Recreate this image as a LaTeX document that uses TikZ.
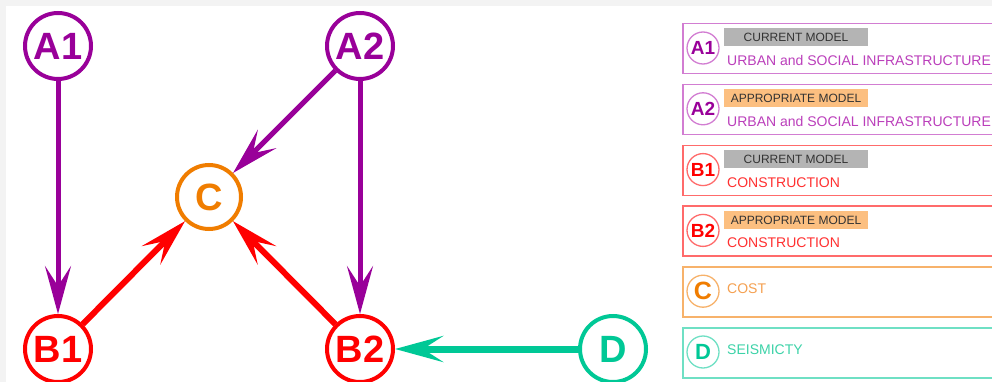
\documentclass[tikz,border=0pt]{standalone}
\usepackage{fontspec}
\setmainfont{Liberation Sans}
\usetikzlibrary{arrows.meta}
\definecolor{bggray}{HTML}{F3F3F3}
\definecolor{cpur}{HTML}{990099}
\definecolor{cred}{HTML}{FF0000}
\definecolor{corg}{HTML}{F07D00}
\definecolor{cteal}{HTML}{00C896}
\definecolor{bpur}{HTML}{D27DD2}
\definecolor{bred}{HTML}{FF6B6B}
\definecolor{borg}{HTML}{F7B26B}
\definecolor{bteal}{HTML}{6FE0C4}
\definecolor{tpur}{HTML}{BB3FBB}
\definecolor{tred}{HTML}{FF3030}
\definecolor{torg}{HTML}{F5A050}
\definecolor{tteal}{HTML}{3CD3A8}
\definecolor{taggray}{HTML}{B4B4B4}
\definecolor{tagorg}{HTML}{FCBF80}
\definecolor{tagtext}{HTML}{333333}
\begin{document}
\begin{tikzpicture}[x=1pt,y=-1pt,
  bignode/.style={circle, draw, line width=4pt, minimum size=66pt, inner sep=0pt,
    fill=white, font=\fontsize{38}{40}\selectfont\bfseries},
  arr/.style={-{Stealth[length=48pt,width=26pt,inset=20pt]}},
  legbox/.style={rectangle, draw, line width=1.5pt, minimum width=330pt,
    minimum height=50pt, inner sep=0pt, anchor=north west},
  lcirc/.style={circle, draw, line width=1.3pt, minimum size=32pt, inner sep=0pt,
    font=\fontsize{19}{20}\selectfont\bfseries},
  tagbox/.style={rectangle, minimum width=144pt, minimum height=18pt, inner sep=0pt,
    text=tagtext, font=\fontsize{12}{12}\selectfont},
  ltext/.style={anchor=base west, inner sep=0pt, font=\fontsize{14}{14}\selectfont}
]
\clip (0,0) rectangle (992,382);
\fill[bggray] (0,0) rectangle (992,382);
\fill[white] (6,6) rectangle (992,382);

% main graph nodes
\node[bignode, draw=cpur, text=cpur] (A1) at (58,46) {A1};
\node[bignode, draw=cpur, text=cpur] (A2) at (360,46) {A2};
\node[bignode, draw=corg, text=corg, minimum size=64pt] (C) at (209,197) {C};
\node[bignode, draw=cred, text=cred] (B1) at (58,349) {B1};
\node[bignode, draw=cred, text=cred] (B2) at (360,349) {B2};
\node[bignode, draw=cteal, text=cteal] (D) at (613,349) {D};

% connectors
\draw[arr, cpur, line width=5pt] (A1) -- (B1);
\draw[arr, cpur, line width=5pt] (A2) -- (C);
\draw[arr, cpur, line width=5pt] (A2) -- (B2);
\draw[arr, cred, line width=6pt] (B1) -- (C);
\draw[arr, cred, line width=6pt] (B2) -- (C);
\draw[arr, cteal, line width=7pt] (D) -- (B2);

% legend
\node[legbox, draw=bpur] (LB1) at (682,23) {};
\node[lcirc, draw=bpur, text=cpur] (LC1) at (703,48) {A1};
\node[tagbox, fill=taggray] (LT1) at (796,37.5) {CURRENT MODEL};
\node[ltext, text=tpur] (LS1) at (727,65.5) {URBAN and SOCIAL INFRASTRUCTURE};

\node[legbox, draw=bpur] (LB2) at (682,83.8) {};
\node[lcirc, draw=bpur, text=cpur] (LC2) at (703,108.8) {A2};
\node[tagbox, fill=tagorg] (LT2) at (796,98.3) {APPROPRIATE MODEL};
\node[ltext, text=tpur] (LS2) at (727,126.3) {URBAN and SOCIAL INFRASTRUCTURE};

\node[legbox, draw=bred] (LB3) at (682,144.6) {};
\node[lcirc, draw=bred, text=cred] (LC3) at (703,169.6) {B1};
\node[tagbox, fill=taggray] (LT3) at (796,159.1) {CURRENT MODEL};
\node[ltext, text=tred] (LS3) at (727,187.1) {CONSTRUCTION};

\node[legbox, draw=bred] (LB4) at (682,205.4) {};
\node[lcirc, draw=bred, text=cred] (LC4) at (703,230.4) {B2};
\node[tagbox, fill=tagorg] (LT4) at (796,219.9) {APPROPRIATE MODEL};
\node[ltext, text=tred] (LS4) at (727,247.9) {CONSTRUCTION};

\node[legbox, draw=borg] (LB5) at (682,266.2) {};
\node[lcirc, draw=borg, text=corg, font=\fontsize{25}{25}\selectfont\bfseries] (LC5) at (703,291.2) {C};
\node[ltext, text=torg] (LS5) at (727,293.2) {COST};

\node[legbox, draw=bteal] (LB6) at (682,327) {};
\node[lcirc, draw=bteal, text=cteal, font=\fontsize{22}{22}\selectfont\bfseries] (LC6) at (703,352) {D};
\node[ltext, text=tteal] (LS6) at (727,354) {SEISMICTY};
\end{tikzpicture}
\end{document}
